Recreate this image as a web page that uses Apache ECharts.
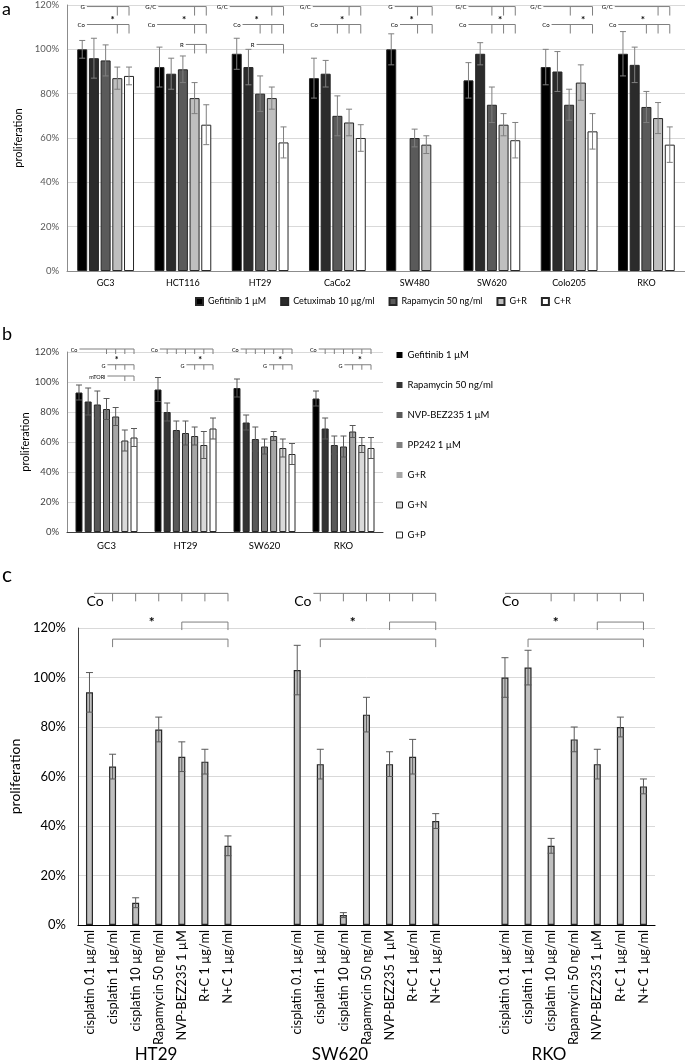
<!DOCTYPE html>
<html>
<head>
<meta charset="utf-8">
<script src="https://cdn.jsdelivr.net/npm/echarts@6/dist/echarts.min.js"></script>
<style>
html, body { margin: 0; padding: 0; background: #fff; }
#main { width: 685px; height: 1061px; }
</style>
</head>
<body>
<div id="main"></div>
<script>
// ---- panel a : 8 cell lines, 5 treatments ----
var catsA = ['GC3', 'HCT116', 'HT29', 'CaCo2', 'SW480', 'SW620', 'Colo205', 'RKO'];
var namesA = ['Gefitinib 1 µM', 'Cetuximab 10 µg/ml', 'Rapamycin 50 ng/ml', 'G+R', 'C+R'];
var gefA = [100, 92, 98, 87, 100, 86, 92, 98];
var cetA = [96, 89, 92, 89, null, 98, 90, 93];
var rapA = [95, 91, 80, 70, 60, 75, 75, 74];
var grA  = [87, 78, 78, 67, 57, 66, 85, 69];
var crA  = [88, 66, 58, 60, null, 59, 63, 57];
var gefAErr = [4, 9, 7, 9, 7, 8, 8, 10];
var cetAErr = [9, 7, 8, 6, null, 5, 9, 8];
var rapAErr = [7, 6, 8, 9, 4, 8, 7, 7];
var grAErr  = [5, 7, 5, 6, 4, 5, 8, 7];
var crAErr  = [4, 9, 7, 6, null, 8, 8, 8];

// ---- panel b : 4 cell lines, 7 treatments ----
var catsB = ['GC3', 'HT29', 'SW620', 'RKO'];
var namesB = ['Gefitinib 1 µM', 'Rapamycin 50 ng/ml', 'NVP-BEZ235 1 µM', 'PP242 1 µM', 'G+R', 'G+N', 'G+P'];
var gefB = [93, 95, 96, 89];
var rapB = [87, 80, 73, 69];
var nvpB = [85, 68, 62, 58];
var ppB  = [82, 66, 57, 57];
var grB  = [77, 64, 64, 67];
var gnB  = [61, 58, 56, 58];
var gpB  = [63, 69, 52, 56];
var gefBErr = [5, 8, 6, 5];
var rapBErr = [9, 6, 5, 7];
var nvpBErr = [9, 6, 8, 6];
var ppBErr  = [7, 8, 5, 7];
var grBErr  = [6, 6, 3, 4];
var gnBErr  = [7, 9, 6, 5];
var gpBErr  = [6, 7, 7, 7];

// ---- panel c : cisplatin combinations ----
var drugsC = ['cisplatin 0.1 µg/ml', 'cisplatin 1 µg/ml', 'cisplatin 10 µg/ml', 'Rapamycin 50 ng/ml',
              'NVP-BEZ235 1 µM', 'R+C 1 µg/ml', 'N+C 1 µg/ml'];
var linesC = ['HT29', 'SW620', 'RKO'];
var ht29C  = [94, 64, 9, 79, 68, 66, 32];
var sw620C = [103, 65, 4, 85, 65, 68, 42];
var rkoC   = [100, 104, 32, 75, 65, 80, 56];
var ht29CErr  = [8, 5, 2, 5, 6, 5, 4];
var sw620CErr = [10, 6, 1, 7, 5, 7, 3];
var rkoCErr   = [8, 7, 3, 5, 6, 4, 3];

// significance brackets, x given in bar slots of the group
var bracketsA = [
  {cat: 0, y: 119.3, label: 'G',   from: 0.4,  to: 4, ticks: [3, 4]},
  {cat: 0, y: 111.2, label: 'Co',  from: 0.4,  to: 4, ticks: [3, 4]},
  {cat: 1, y: 119.3, label: 'G/C', from: -0.1, to: 4, ticks: [3, 4]},
  {cat: 1, y: 111.2, label: 'Co',  from: -0.2, to: 4, ticks: [3, 4]},
  {cat: 1, y: 102.2, label: 'R',   from: 2.25, to: 4, ticks: [3, 4]},
  {cat: 2, y: 119.3, label: 'G/C', from: -0.6, to: 4, ticks: [3, 4]},
  {cat: 2, y: 111.2, label: 'Co',  from: 0.5,  to: 4, ticks: [2, 3, 4]},
  {cat: 2, y: 102.2, label: 'R',   from: 1.7,  to: 4, ticks: [4]},
  {cat: 3, y: 119.3, label: 'G/C', from: -0.1, to: 4, ticks: [3, 4]},
  {cat: 3, y: 111.2, label: 'Co',  from: 0.5,  to: 4, ticks: [2, 3, 4]},
  {cat: 4, y: 119.3, label: 'G',   from: 0.3,  to: 3.5, ticks: [2.25, 3.5]},
  {cat: 4, y: 111.2, label: 'Co',  from: 0.75, to: 3.5, ticks: [2.25, 3.5]},
  {cat: 5, y: 119.3, label: 'G/C', from: 0,    to: 4, ticks: [2, 3, 4]},
  {cat: 5, y: 111.2, label: 'Co',  from: 0,    to: 4, ticks: [2, 3, 4]},
  {cat: 6, y: 119.3, label: 'G/C', from: -0.2, to: 4, ticks: [2.1, 4]},
  {cat: 6, y: 111.2, label: 'Co',  from: 0.5,  to: 4, ticks: [2.1, 4]},
  {cat: 7, y: 119.3, label: 'G/C', from: -0.7, to: 4, ticks: [3, 4]},
  {cat: 7, y: 111.2, label: 'Co',  from: -0.4, to: 4, ticks: [2, 3, 4]}
];
var starsA = [[0, 2.6], [1, 2.1], [2, 1.7], [3, 2.4], [4, 1.75], [5, 2.7], [6, 3.2], [7, 1.7]];

var bracketsB = [
  {cat: 0, y: 122,   label: 'Co',    from: 0.05, to: 6, ticks: [3, 4, 5, 6]},
  {cat: 0, y: 111.5, label: 'G',     from: 3.1,  to: 6, ticks: [4, 5, 6]},
  {cat: 0, y: 104,   label: 'mTORi', from: 3.1,  to: 6, ticks: [5, 6]},
  {cat: 1, y: 122,   label: 'Co',    from: 0.2,  to: 6, ticks: [1, 2, 3, 4, 5, 6]},
  {cat: 1, y: 111.5, label: 'G',     from: 3.1,  to: 6, ticks: [4, 5, 6]},
  {cat: 2, y: 122,   label: 'Co',    from: 0.4,  to: 6, ticks: [1, 2, 3, 4, 5, 6]},
  {cat: 2, y: 111.5, label: 'G',     from: 3.5,  to: 6, ticks: [4, 5, 6]},
  {cat: 3, y: 122,   label: 'Co',    from: 0.3,  to: 6, ticks: [1, 2, 3, 4, 5, 6]},
  {cat: 3, y: 111.5, label: 'G',     from: 3.1,  to: 6, ticks: [4, 5, 6]}
];
var starsB = [[0, 4.1], [1, 4.6], [2, 4.7], [3, 4.8]];

var bracketsC = [];
var starsC = [[0, 2.7], [9, 2.4], [18, 2.2]];
[[0, 0.2, [1, 2, 3, 4, 5, 6]], [9, 0.7, [1, 2, 3, 4, 5, 6]], [18, 0, [2, 3, 4, 5, 6]]].forEach(function (g) {
  bracketsC.push({cat: g[0], y: 134, label: 'Co', from: g[1], to: 6, ticks: g[2]});
  bracketsC.push({cat: g[0], y: 122.4, from: 4, to: 6, ticks: [4, 6]});
  bracketsC.push({cat: g[0], y: 115.5, from: 1, to: 6, ticks: [1, 6]});
});

// categories for c: 7 bars per line, two empty slots between lines
var catsC = [], valsC = [], errsC = [];
[[ht29C, ht29CErr], [sw620C, sw620CErr], [rkoC, rkoCErr]].forEach(function (g, gi) {
  if (gi > 0) { catsC.push('', ''); valsC.push(null, null); errsC.push(null, null); }
  drugsC.forEach(function (d, i) { catsC.push(d); valsC.push(g[0][i]); errsC.push(g[1][i]); });
});

var FONT = 'Lato, "Liberation Sans", sans-serif';
var chart = echarts.init(document.getElementById('main'));

function errData(vals, errs) {
  var out = [];
  vals.forEach(function (arr, k) {
    arr.forEach(function (v, i) {
      if (v != null) out.push([i, v, errs[k][i], k]);
    });
  });
  return out;
}

function errRender(n, step, cap, color) {
  return function (params, api) {
    var cat = api.value(0), v = api.value(1), e = api.value(2), k = api.value(3);
    var dx = (k - (n - 1) / 2) * step;
    var top = api.coord([cat, v + e]);
    var bot = api.coord([cat, v - e]);
    var x = top[0] + dx;
    var st = {stroke: color, lineWidth: 1};
    return {type: 'group', children: [
      {type: 'line', shape: {x1: x, y1: top[1], x2: x, y2: bot[1]}, style: st},
      {type: 'line', shape: {x1: x - cap, y1: top[1], x2: x + cap, y2: top[1]}, style: st},
      {type: 'line', shape: {x1: x - cap, y1: bot[1], x2: x + cap, y2: bot[1]}, style: st}
    ]};
  };
}

function slotPt(api, n, step, cat, slot, y) {
  var p = api.coord([cat, y]);
  var s = step || api.size([1, 0])[0];
  return [p[0] + (slot - (n - 1) / 2) * s, p[1]];
}

function bracketRender(rows, n, step, opt) {
  return function (params, api) {
    var r = rows[params.dataIndex];
    var a = slotPt(api, n, step, r.cat, r.from, r.y);
    var b = slotPt(api, n, step, r.cat, r.to, r.y);
    var st = {stroke: opt.color, lineWidth: 1};
    var ch = [{type: 'line', shape: {x1: a[0], y1: a[1], x2: b[0], y2: b[1]}, style: st}];
    r.ticks.forEach(function (t) {
      var p = slotPt(api, n, step, r.cat, t, r.y);
      ch.push({type: 'line', shape: {x1: p[0], y1: p[1], x2: p[0], y2: p[1] + opt.tick}, style: st});
    });
    if (r.label) {
      if (opt.below) {
        var p0 = slotPt(api, n, step, r.cat, 0, r.y);
        ch.push({type: 'text', style: {text: r.label, x: p0[0] - 3, y: a[1] + 1, fill: '#000',
          fontSize: opt.fontSize, fontFamily: FONT, align: 'left', verticalAlign: 'top'}});
      } else {
        ch.push({type: 'text', style: {text: r.label, x: a[0] - 2, y: a[1] + 1, fill: '#000',
          fontSize: opt.fontSize, fontFamily: FONT, align: 'right', verticalAlign: 'middle'}});
      }
    }
    return {type: 'group', children: ch};
  };
}

function starRender(n, step, y, size) {
  return function (params, api) {
    var p = slotPt(api, n, step, api.value(0), api.value(1), y);
    return {type: 'text', style: {text: '*', x: p[0], y: p[1] + size * 0.25, fill: '#000',
      fontSize: size, fontWeight: 'bold', fontFamily: FONT, align: 'center', verticalAlign: 'middle'}};
  };
}

function yAxis(grid, fs, color, lineColor) {
  return {
    type: 'value', gridIndex: grid, min: 0, max: 120, interval: 20,
    name: 'proliferation', nameLocation: 'middle', nameRotate: 90,
    axisLine: {show: true, lineStyle: {color: lineColor}},
    axisTick: {show: false},
    axisLabel: {formatter: '{value}%', fontSize: fs, color: color, fontFamily: FONT, margin: 8},
    splitLine: {lineStyle: {color: '#d9d9d9'}}
  };
}

var colorsA = ['#000000', '#2b2b2b', '#5a5a5a', '#bfbfbf', '#ffffff'];
var colorsB = ['#000000', '#333333', '#595959', '#7f7f7f', '#a6a6a6', '#d9d9d9', '#ffffff'];
var valsA = [gefA, cetA, rapA, grA, crA];
var errsA = [gefAErr, cetAErr, rapAErr, grAErr, crAErr];
var valsB = [gefB, rapB, nvpB, ppB, grB, gnB, gpB];
var errsB = [gefBErr, rapBErr, nvpBErr, ppBErr, grBErr, gnBErr, gpBErr];

var BW_A = 10, GAP_A = 0.17, BW_B = 7, GAP_B = 0.31;
var series = [];
namesA.forEach(function (nm, k) {
  series.push({type: 'bar', name: nm, xAxisIndex: 0, yAxisIndex: 0, data: valsA[k],
    barWidth: BW_A, barGap: (GAP_A * 100) + '%',
    itemStyle: {color: colorsA[k], borderColor: '#262626', borderWidth: 1}});
});
namesB.forEach(function (nm, k) {
  series.push({type: 'bar', name: nm, xAxisIndex: 1, yAxisIndex: 1, data: valsB[k],
    barWidth: BW_B, barGap: (GAP_B * 100) + '%',
    itemStyle: {color: colorsB[k], borderColor: '#262626', borderWidth: 1}});
});
series.push({type: 'bar', xAxisIndex: 2, yAxisIndex: 2, data: valsC, barWidth: 7,
  itemStyle: {color: '#bfbfbf', borderColor: '#262626', borderWidth: 1.2}});

// error bars
series.push({type: 'custom', xAxisIndex: 0, yAxisIndex: 0, z: 5, silent: true,
  renderItem: errRender(5, BW_A * (1 + GAP_A), 3, '#7f7f7f'), data: errData(valsA, errsA)});
series.push({type: 'custom', xAxisIndex: 1, yAxisIndex: 1, z: 5, silent: true,
  renderItem: errRender(7, BW_B * (1 + GAP_B), 3, '#595959'), data: errData(valsB, errsB)});
series.push({type: 'custom', xAxisIndex: 2, yAxisIndex: 2, z: 5, silent: true,
  renderItem: errRender(1, 0, 3.5, '#595959'), data: errData([valsC], [errsC])});

// brackets and stars
series.push({type: 'custom', xAxisIndex: 0, yAxisIndex: 0, z: 6, silent: true, clip: false,
  renderItem: bracketRender(bracketsA, 5, BW_A * (1 + GAP_A), {color: '#7f7f7f', tick: 9, fontSize: 6}),
  data: bracketsA.map(function (r) { return [r.cat, r.y]; })});
series.push({type: 'custom', xAxisIndex: 0, yAxisIndex: 0, z: 6, silent: true, clip: false,
  renderItem: starRender(5, BW_A * (1 + GAP_A), 114.3, 10), data: starsA});
series.push({type: 'custom', xAxisIndex: 1, yAxisIndex: 1, z: 6, silent: true, clip: false,
  renderItem: bracketRender(bracketsB, 7, BW_B * (1 + GAP_B), {color: '#7f7f7f', tick: 5, fontSize: 5.5}),
  data: bracketsB.map(function (r) { return [r.cat, r.y]; })});
series.push({type: 'custom', xAxisIndex: 1, yAxisIndex: 1, z: 6, silent: true, clip: false,
  renderItem: starRender(7, BW_B * (1 + GAP_B), 116, 9), data: starsB});
series.push({type: 'custom', xAxisIndex: 2, yAxisIndex: 2, z: 6, silent: true, clip: false,
  renderItem: bracketRender(bracketsC, 1, 0, {color: '#7f7f7f', tick: 8, fontSize: 14, below: true}),
  data: bracketsC.map(function (r) { return [r.cat, r.y]; })});
series.push({type: 'custom', xAxisIndex: 2, yAxisIndex: 2, z: 6, silent: true, clip: false,
  renderItem: starRender(1, 0, 123.6, 14), data: starsC});

var legendBData = namesB.map(function (nm, k) {
  return {name: nm, itemStyle: {color: colorsB[k], borderColor: '#262626', borderWidth: k >= 5 ? 1 : 0}};
});

var grY = [
  yAxis(0, 9.5, '#595959', '#8c8c8c'),
  yAxis(1, 9.5, '#404040', '#8c8c8c'),
  yAxis(2, 13, '#000000', '#404040')
];
grY[0].nameGap = 32; grY[0].nameTextStyle = {fontSize: 11, fontFamily: FONT, color: '#000'};
grY[1].nameGap = 31; grY[1].nameTextStyle = {fontSize: 11, fontFamily: FONT, color: '#000'};
grY[2].nameGap = 45; grY[2].nameTextStyle = {fontSize: 14, fontFamily: FONT, color: '#000'};
grY[2].axisLabel.margin = 12;

chart.setOption({
  animation: false,
  textStyle: {fontFamily: FONT},
  grid: [
    {left: 67, top: 4, width: 618, height: 267},
    {left: 67, top: 352, width: 316, height: 180},
    {left: 66, top: 628, width: 589, height: 297}
  ],
  legend: [
    {left: 190, top: 292, itemWidth: 7, itemHeight: 7, itemGap: 14, icon: 'rect',
      data: namesA, textStyle: {fontSize: 9, color: '#000', fontFamily: FONT}},
    {left: 391, top: 344, orient: 'vertical', itemWidth: 6, itemHeight: 6, itemGap: 18, icon: 'rect',
      data: legendBData, textStyle: {fontSize: 9.5, lineHeight: 12, color: '#000', fontFamily: FONT}}
  ],
  xAxis: [
    {type: 'category', gridIndex: 0, data: catsA, axisTick: {show: false},
      axisLine: {lineStyle: {color: '#8c8c8c'}},
      axisLabel: {fontSize: 9, color: '#000', margin: 8, fontFamily: FONT}},
    {type: 'category', gridIndex: 1, data: catsB, axisTick: {show: false},
      axisLine: {lineStyle: {color: '#404040'}},
      axisLabel: {fontSize: 9.5, color: '#000', margin: 9, fontFamily: FONT}},
    {type: 'category', gridIndex: 2, data: catsC, axisTick: {show: false},
      axisLine: {lineStyle: {color: '#000', width: 1.2}},
      axisLabel: {fontSize: 12.8, color: '#000', rotate: 90, interval: 0, margin: 5, fontFamily: FONT}}
  ],
  yAxis: grY,
  series: series,
  graphic: [
    {type: 'text', x: 2, y: 9, style: {text: 'a', fontSize: 18, fill: '#000', fontFamily: FONT, verticalAlign: 'middle'}},
    {type: 'text', x: 2, y: 334, style: {text: 'b', fontSize: 18, fill: '#000', fontFamily: FONT, verticalAlign: 'middle'}},
    {type: 'text', x: 2, y: 575, style: {text: 'c', fontSize: 21, fill: '#000', fontFamily: FONT, verticalAlign: 'middle'}},
    {type: 'text', x: 156, y: 1055, style: {text: linesC[0], fontSize: 17, fill: '#000', fontFamily: FONT, align: 'center', verticalAlign: 'middle'}},
    {type: 'text', x: 340, y: 1055, style: {text: linesC[1], fontSize: 17, fill: '#000', fontFamily: FONT, align: 'center', verticalAlign: 'middle'}},
    {type: 'text', x: 549, y: 1055, style: {text: linesC[2], fontSize: 17, fill: '#000', fontFamily: FONT, align: 'center', verticalAlign: 'middle'}}
  ]
});
</script>
</body>
</html>
